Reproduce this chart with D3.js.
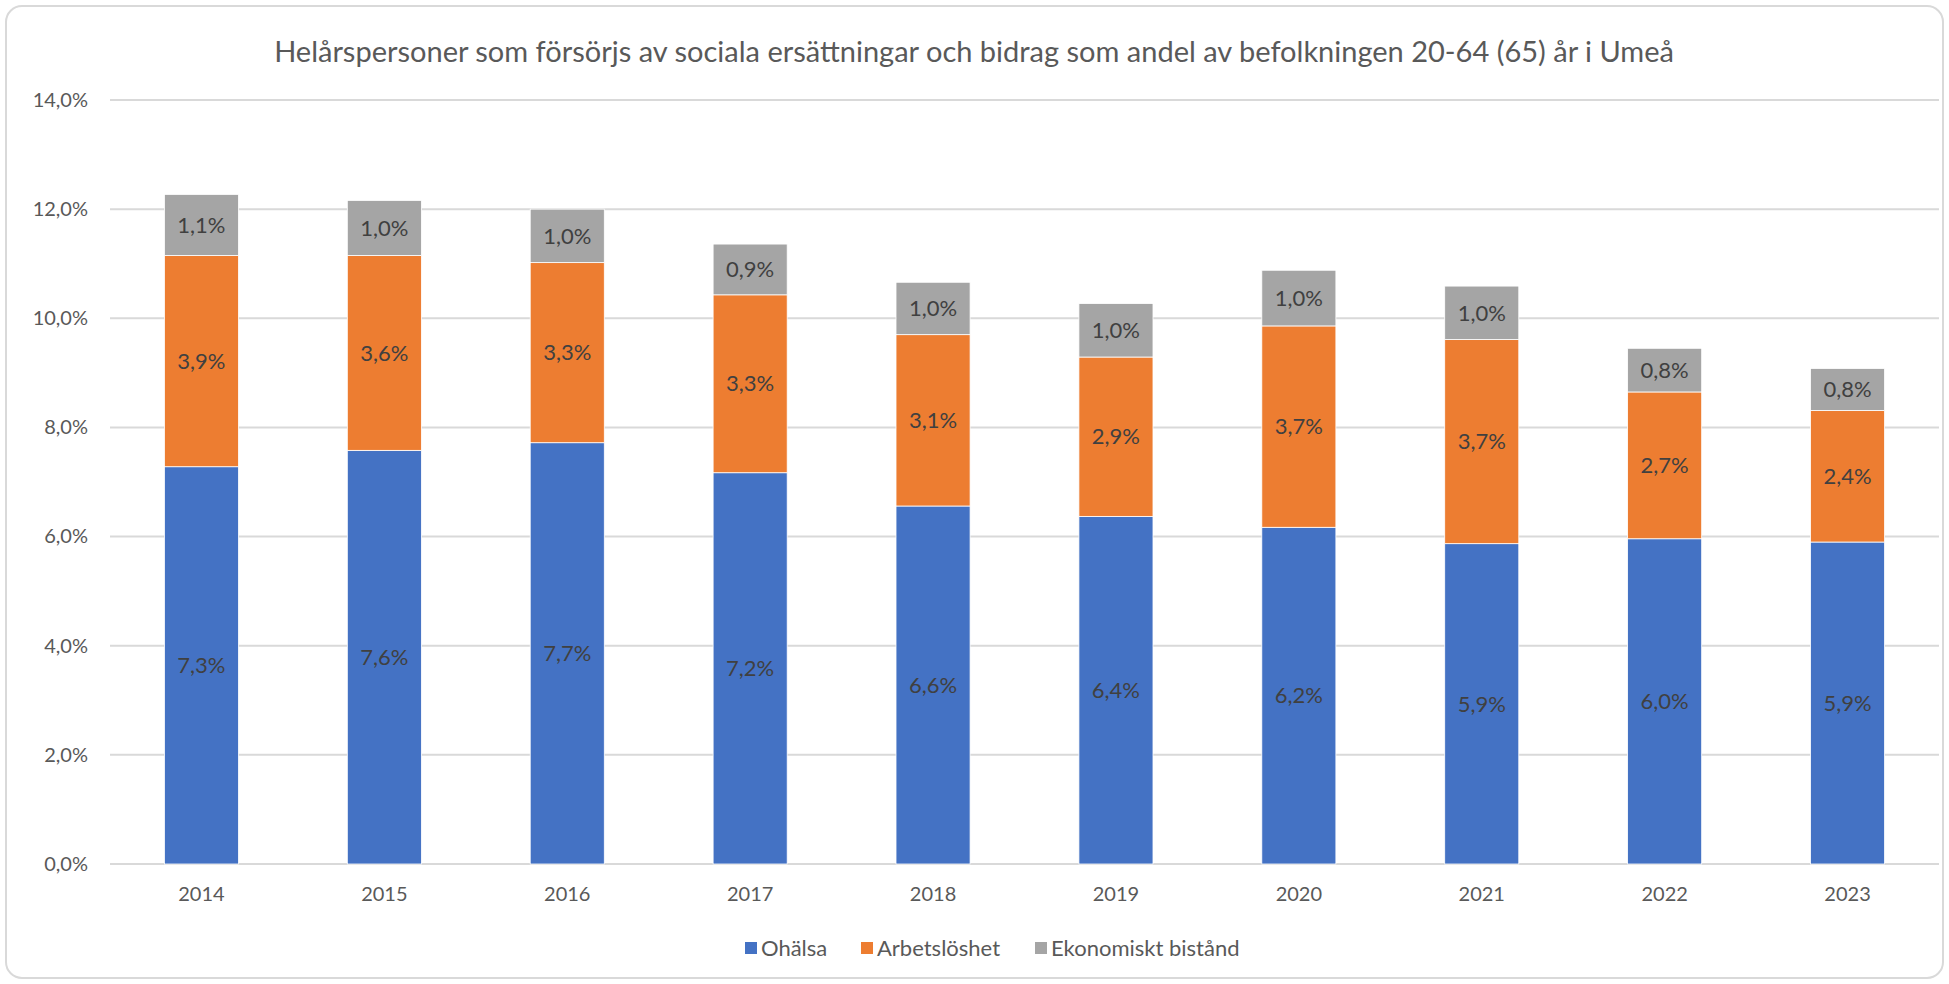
<!DOCTYPE html>
<html>
<head>
<meta charset="utf-8">
<script src="https://cdn.jsdelivr.net/npm/d3@7"></script>
<style>
  body { margin: 0; background: #fff; }
  text { font-family: Lato, "Open Sans", sans-serif; }
</style>
</head>
<body>
<div id="chart"></div>
<script>
// data
var years = ["2014", "2015", "2016", "2017", "2018", "2019", "2020", "2021", "2022", "2023"];
var ohalsa = [7.28, 7.58, 7.72, 7.17, 6.56, 6.37, 6.17, 5.87, 5.96, 5.90];
var arbetsloshet = [3.87, 3.57, 3.30, 3.26, 3.14, 2.92, 3.69, 3.74, 2.69, 2.41];
var bistand = [1.12, 1.01, 0.98, 0.93, 0.96, 0.98, 1.02, 0.98, 0.80, 0.77];
var seriesNames = ["Ohälsa", "Arbetslöshet", "Ekonomiskt bistånd"];
var colors = ["#4472c4", "#ed7d31", "#a5a5a5"];
var tickValues = [0, 2, 4, 6, 8, 10, 12, 14];

var W = 1949, H = 984;
var margin = {top: 100, right: 10, bottom: 120, left: 110},
    width = W - margin.left - margin.right,
    height = H - margin.top - margin.bottom;

var svg = d3.select("#chart").append("svg")
    .attr("width", W)
    .attr("height", H);

// chart frame
svg.append("rect")
    .attr("x", 6).attr("y", 6)
    .attr("width", W - 12).attr("height", H - 12)
    .attr("rx", 16).attr("ry", 16)
    .attr("fill", "#fff")
    .attr("stroke", "#d9d9d9")
    .attr("stroke-width", 2);

svg.append("text")
    .attr("x", 974)
    .attr("y", 62)
    .attr("text-anchor", "middle")
    .attr("fill", "#595959")
    .style("font-size", "29px")
    .text("Helårspersoner som försörjs av sociala ersättningar och bidrag som andel av befolkningen 20-64 (65) år i Umeå");

var g = svg.append("g")
    .attr("transform", "translate(" + margin.left + "," + margin.top + ")");

var x = d3.scaleBand().domain(years).range([0, width]).paddingInner(0.595).paddingOuter(0.2975);
var y = d3.scaleLinear().domain([0, 14]).range([height, 0]);

var fmt = function(v) { return v.toFixed(1).replace(".", ",") + "%"; };

// gridlines
g.selectAll(".grid")
    .data(tickValues)
    .enter().append("line")
    .attr("class", "grid")
    .attr("x1", 0).attr("x2", width)
    .attr("y1", d => y(d)).attr("y2", d => y(d))
    .attr("stroke", "#d9d9d9")
    .attr("stroke-width", 2);

// y labels
var yAxis = d3.axisLeft(y).tickValues(tickValues).tickSize(0).tickPadding(22).tickFormat(fmt);
g.append("g").call(yAxis)
    .call(s => s.select(".domain").remove())
    .selectAll("text")
    .attr("fill", "#595959")
    .style("font-size", "20px")
    .style("font-family", "Lato, 'Open Sans', sans-serif");

// x labels
var xAxis = d3.axisBottom(x).tickSize(0).tickPadding(23);
g.append("g")
    .attr("transform", "translate(0," + height + ")")
    .call(xAxis)
    .call(s => s.select(".domain").remove())
    .selectAll("text")
    .attr("fill", "#595959")
    .style("font-size", "20px")
    .style("font-family", "Lato, 'Open Sans', sans-serif");

var table = years.map(function(yr, i) {
    return {year: yr, s0: ohalsa[i], s1: arbetsloshet[i], s2: bistand[i]};
});
var stack = d3.stack().keys(["s0", "s1", "s2"])(table);

var layers = g.selectAll(".layer")
    .data(stack)
    .enter().append("g")
    .attr("class", "layer")
    .attr("fill", (d, i) => colors[i]);

layers.selectAll("rect")
    .data(d => d)
    .enter().append("rect")
    .attr("x", d => x(d.data.year))
    .attr("y", d => y(d[1]))
    .attr("width", x.bandwidth())
    .attr("height", d => y(d[0]) - y(d[1]))
    .attr("stroke", "#fff")
    .attr("stroke-width", 0.8);

layers.selectAll(".lbl")
    .data(d => d)
    .enter().append("text")
    .attr("class", "lbl")
    .attr("x", d => x(d.data.year) + x.bandwidth() / 2)
    .attr("y", d => (y(d[0]) + y(d[1])) / 2)
    .attr("dy", "0.35em")
    .attr("text-anchor", "middle")
    .attr("fill", "#404040")
    .style("font-size", "22px")
    .text(d => fmt(d[1] - d[0]));

// legend
var legendX = [745, 861, 1035];
var legend = svg.selectAll(".legend")
    .data(seriesNames)
    .enter().append("g")
    .attr("class", "legend")
    .attr("transform", (d, i) => "translate(" + legendX[i] + ",948)");

legend.append("rect")
    .attr("x", 0).attr("y", -6)
    .attr("width", 12).attr("height", 12)
    .attr("fill", (d, i) => colors[i]);

legend.append("text")
    .attr("x", 16)
    .attr("dy", "0.35em")
    .attr("fill", "#595959")
    .style("font-size", "22px")
    .text(d => d);
</script>
</body>
</html>
